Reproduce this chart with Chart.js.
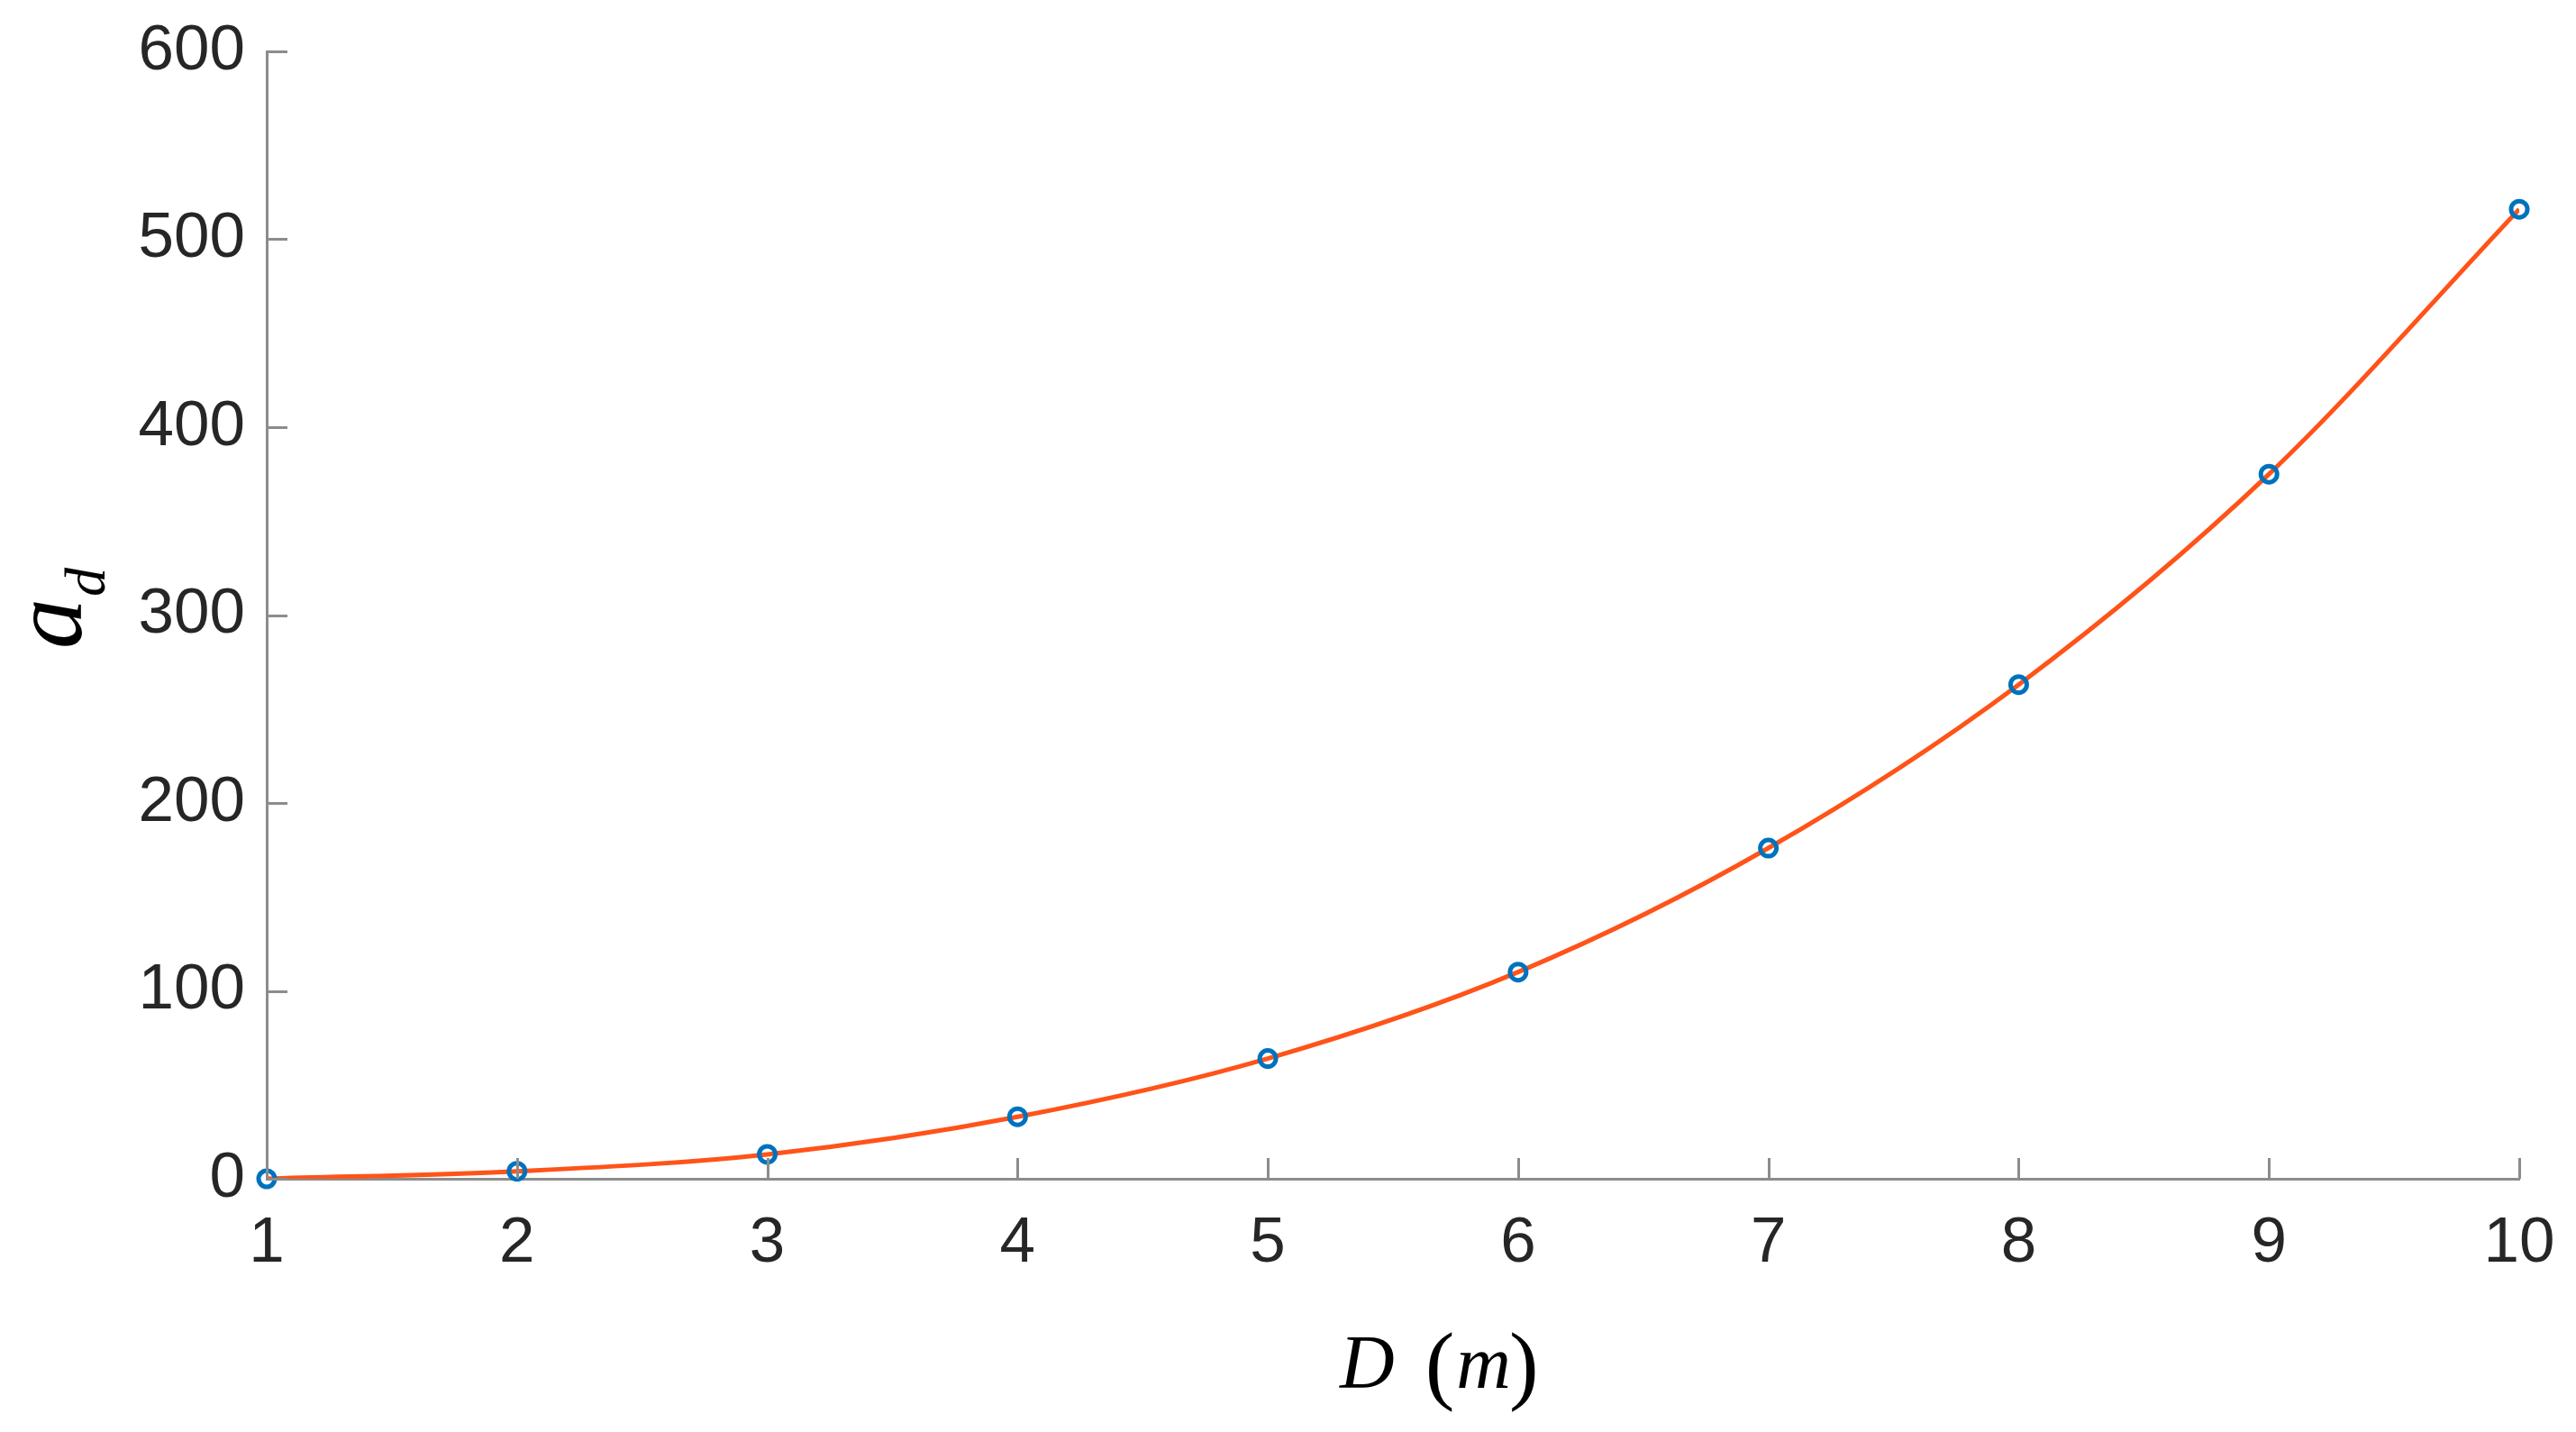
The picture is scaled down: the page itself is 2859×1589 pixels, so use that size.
<!DOCTYPE html>
<html>
<head>
<meta charset="utf-8">
<style>
  html, body { margin: 0; padding: 0; background: #ffffff; }
  #wrap { width: 2859px; height: 1589px; position: relative; }
</style>
<script src="https://cdn.jsdelivr.net/npm/chart.js@4/dist/chart.umd.min.js"></script>
</head>
<body>
<div id="wrap"><canvas id="c" width="2859" height="1589"></canvas></div>
<script>
// ---- data ----
const dValues = [1, 2, 3, 4, 5, 6, 7, 8, 9, 10];
const adValues = [0, 4, 13, 33, 64, 110, 176, 263, 375, 516];
const xTicks = [1, 2, 3, 4, 5, 6, 7, 8, 9, 10];
const yTicks = [0, 100, 200, 300, 400, 500, 600];
const xTitle = ['D', '(m)'];
const yTitle = ['a', 'd'];

const AXIS_COLOR = '#8c8c8c';
const TEXT_COLOR = '#262626';

const pts = dValues.map((d, i) => ({ x: d, y: adValues[i] }));

// draw inward tick marks and the mixed-style axis titles
const decorPlugin = {
  id: 'decor',
  afterDraw(chart) {
    const ctx = chart.ctx;
    const xs = chart.scales.x, ys = chart.scales.y;
    const a = chart.chartArea;
    ctx.save();
    ctx.strokeStyle = AXIS_COLOR;
    ctx.lineWidth = 3;
    const tl = 23;
    xTicks.forEach(v => {
      const px = Math.round(xs.getPixelForValue(v)) + 0.5;
      ctx.beginPath(); ctx.moveTo(px, a.bottom); ctx.lineTo(px, a.bottom - tl); ctx.stroke();
    });
    yTicks.forEach(v => {
      const py = Math.round(ys.getPixelForValue(v)) + 0.5;
      ctx.beginPath(); ctx.moveTo(a.left, py); ctx.lineTo(a.left + tl, py); ctx.stroke();
    });
    ctx.restore();

    // x title: D (m)
    ctx.save();
    ctx.fillStyle = '#000';
    ctx.textBaseline = 'alphabetic';
    ctx.textAlign = 'left';
    const by = 1540;
    const itF = 'italic 84px "Liberation Serif", "Times New Roman", serif';
    const upF = '98px "Liberation Serif", "Times New Roman", serif';
    ctx.font = itF;
    const dW = ctx.measureText(xTitle[0]).width;
    const mW = ctx.measureText('m').width;
    ctx.font = upF;
    const lpW = ctx.measureText('(').width;
    let x0 = 1487;
    ctx.font = itF;
    ctx.fillText(xTitle[0], x0, by);
    let x1 = x0 + dW + 34;
    ctx.font = upF;
    ctx.fillText('(', x1, by + 6);
    let x2 = x1 + lpW + 2;
    ctx.font = itF;
    ctx.fillText('m', x2, by);
    let x3 = x2 + mW - 2;
    ctx.font = upF;
    ctx.fillText(')', x3, by + 6);
    ctx.restore();

    // y title: a_d rotated
    ctx.save();
    ctx.fillStyle = '#000';
    ctx.translate(90, 720);
    ctx.rotate(-Math.PI / 2);
    ctx.textBaseline = 'alphabetic';
    ctx.textAlign = 'left';
    ctx.font = 'italic 112px "Liberation Serif", serif';
    ctx.fillText(yTitle[0], 0, 0);
    const aW = ctx.measureText(yTitle[0]).width;
    ctx.font = 'italic 64px "Liberation Serif", serif';
    ctx.fillText(yTitle[1], aW + 2, 26);
    ctx.restore();
  }
};

new Chart(document.getElementById('c'), {
  type: 'scatter',
  data: {
    datasets: [
      {
        label: 'data',
        data: pts,
        showLine: false,
        clip: false,
        pointStyle: 'circle',
        pointRadius: 9,
        pointBorderWidth: 5,
        pointBorderColor: '#0072BD',
        pointBackgroundColor: 'rgba(0,0,0,0)',
        order: 1
      },
      {
        label: 'fit',
        data: pts,
        showLine: true,
        borderColor: '#FF5319',
        borderWidth: 5,
        pointRadius: 0,
        cubicInterpolationMode: 'monotone',
        fill: false,
        order: 2
      }
    ]
  },
  options: {
    responsive: false,
    animation: false,
    devicePixelRatio: 1,
    layout: { padding: { top: 57, right: 63, left: 0, bottom: 0 } },
    plugins: { legend: { display: false }, tooltip: { enabled: false } },
    scales: {
      x: {
        type: 'linear',
        min: 1, max: 10,
        afterFit(s) { s.height = 281; s.paddingLeft = 0; s.paddingRight = 0; },
        afterBuildTicks(s) { s.ticks = xTicks.map(v => ({ value: v })); },
        grid: { display: true, drawOnChartArea: false, drawTicks: false },
        border: { display: true, color: AXIS_COLOR, width: 3 },
        ticks: {
          color: TEXT_COLOR,
          font: { family: '"Liberation Sans", Arial, sans-serif', size: 71 },
          padding: 30,
          maxRotation: 0,
          autoSkip: false
        }
      },
      y: {
        type: 'linear',
        min: 0, max: 600,
        afterFit(s) { s.width = 296; s.paddingTop = 0; s.paddingBottom = 0; },
        afterBuildTicks(s) { s.ticks = yTicks.map(v => ({ value: v })); },
        grid: { display: true, drawOnChartArea: false, drawTicks: false },
        border: { display: true, color: AXIS_COLOR, width: 3 },
        ticks: {
          color: TEXT_COLOR,
          font: { family: '"Liberation Sans", Arial, sans-serif', size: 71 },
          padding: 24,
          autoSkip: false
        }
      }
    }
  },
  plugins: [decorPlugin]
});
</script>
</body>
</html>
